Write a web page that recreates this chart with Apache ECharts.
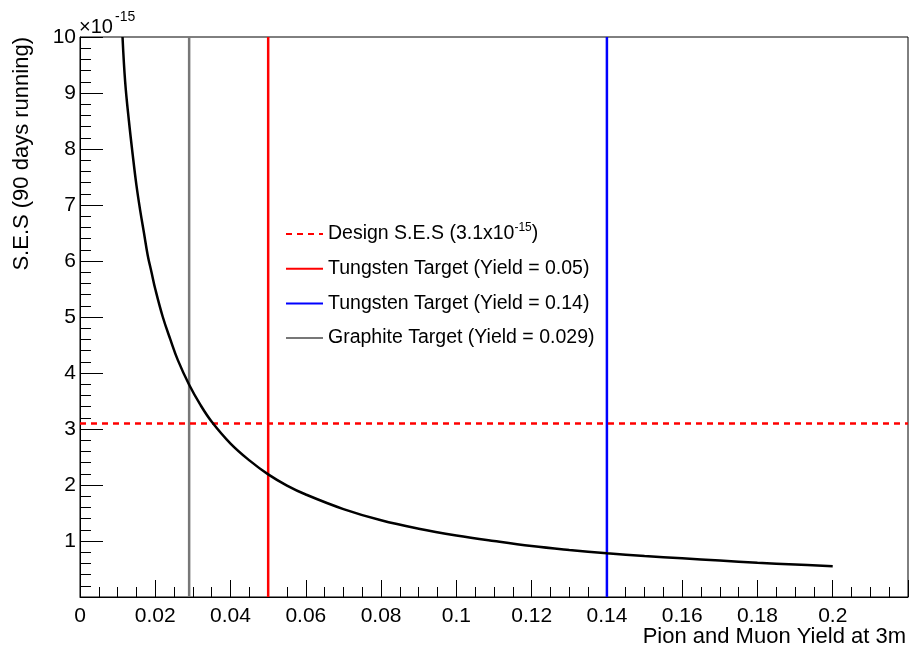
<!DOCTYPE html>
<html>
<head>
<meta charset="utf-8">
<script src="https://cdn.jsdelivr.net/npm/echarts@6/dist/echarts.min.js"></script>
<style>
  html, body { margin: 0; padding: 0; background: #fff; }
  #chart { width: 909px; height: 652px; }
</style>
</head>
<body>
<div id="chart"></div>
<script>
(function() {
  // S.E.S curve (units of 1e-15) vs pion+muon yield at 3m
  var yieldX = [0.0113, 0.012, 0.013, 0.014, 0.015, 0.016, 0.017, 0.018, 0.019, 0.02,
    0.022, 0.024, 0.026, 0.029, 0.032, 0.035, 0.04, 0.045, 0.05, 0.055, 0.06,
    0.07, 0.08, 0.09, 0.1, 0.11, 0.12, 0.13, 0.14, 0.15, 0.16, 0.17, 0.18, 0.19, 0.2];
  var sesY = [10.0, 9.2, 8.5, 7.9, 7.35, 6.9, 6.5, 6.1, 5.8, 5.5,
    5.0, 4.6, 4.23, 3.79, 3.43, 3.13, 2.74, 2.44, 2.19, 1.99, 1.83,
    1.57, 1.37, 1.22, 1.1, 1.0, 0.91, 0.84, 0.78, 0.73, 0.69, 0.65, 0.61, 0.58, 0.55];

  var designSES = 3.1;
  var targetNames = ['Tungsten Target (Yield = 0.05)', 'Tungsten Target (Yield = 0.14)', 'Graphite Target (Yield = 0.029)'];
  var targetYields = [0.05, 0.14, 0.029];
  var targetColors = ['#ff0000', '#0000ff', '#777777'];
  var designName = 'Design S.E.S (3.1x10-15)';

  var xMin = 0, xMax = 0.22, yMin = 0, yMax = 10;
  var font = 'Liberation Sans, Arial, Helvetica, sans-serif';

  var curve = yieldX.map(function(x, i) { return [x, sesY[i]]; });

  var series = [{
    name: 'curve',
    type: 'line',
    data: curve,
    showSymbol: false,
    symbol: 'none',
    smooth: 0.4,
    lineStyle: { color: '#000', width: 2.5 },
    z: 5
  }, {
    name: designName,
    type: 'line',
    data: [[xMin, designSES], [xMax, designSES]],
    symbol: 'none',
    itemStyle: { color: '#ff0000' },
    lineStyle: { color: '#ff0000', width: 2.5, type: [6, 5] },
    z: 4
  }];
  targetNames.forEach(function(n, i) {
    series.push({
      name: n,
      type: 'line',
      data: [[targetYields[i], yMin], [targetYields[i], yMax]],
      symbol: 'none',
      itemStyle: { color: targetColors[i] },
      lineStyle: { color: targetColors[i], width: 2.5 },
      z: 3
    });
  });

  var chart = echarts.init(document.getElementById('chart'), null, { renderer: 'canvas' });
  chart.setOption({
    animation: false,
    backgroundColor: '#fff',
    grid: {
      left: 80, right: 1, top: 37, bottom: 55,
      show: true, borderColor: '#000', borderWidth: 1, backgroundColor: 'transparent'
    },
    legend: {
      data: [designName].concat(targetNames),
      orient: 'vertical',
      left: 285,
      top: 222,
      padding: 0,
      itemWidth: 37,
      itemHeight: 20,
      itemGap: 14.7,
      itemStyle: { opacity: 0 },
      textStyle: {
        fontFamily: font, fontSize: 19.5, color: '#000',
        rich: {
          t: { fontFamily: font, fontSize: 19.5, color: '#000' },
          s: { fontFamily: font, fontSize: 12, color: '#000', padding: [0, 0, 12, 0] }
        }
      },
      formatter: function(name) {
        if (name === designName) return '{t|Design S.E.S (3.1x10}{s|-15}{t|)}';
        return name;
      },
      selectedMode: false
    },
    xAxis: {
      type: 'value',
      min: xMin, max: xMax, interval: 0.02,
      axisLine: { lineStyle: { color: '#000', width: 1 } },
      axisTick: { inside: true, length: 17, lineStyle: { color: '#000', width: 1 } },
      minorTick: { show: true, splitNumber: 4, length: 10, lineStyle: { color: '#000', width: 1 } },
      splitLine: { show: false },
      axisLabel: {
        fontFamily: font, fontSize: 21, color: '#000', margin: 9,
        showMaxLabel: false,
        formatter: function(v) { return v > 0.21 ? '' : String(+v.toFixed(3)); }
      }
    },
    yAxis: {
      type: 'value',
      min: yMin, max: yMax, interval: 1,
      axisLine: { lineStyle: { color: '#000', width: 1 } },
      axisTick: { inside: true, length: 23, lineStyle: { color: '#000', width: 1 } },
      minorTick: { show: true, splitNumber: 5, length: 11, lineStyle: { color: '#000', width: 1 } },
      splitLine: { show: false },
      axisLabel: {
        fontFamily: font, fontSize: 21, color: '#000', margin: 4,
        showMaxLabel: true,
        formatter: function(v) { return v === 0 ? '' : String(v); }
      }
    },
    graphic: [{
      type: 'text',
      x: 22, y: 37,
      rotation: Math.PI / 2,
      style: {
        text: 'S.E.S (90 days running)',
        font: '22px ' + font,
        fill: '#000',
        textAlign: 'right',
        textVerticalAlign: 'middle'
      }
    }, {
      type: 'text',
      x: 906, y: 637,
      style: {
        text: 'Pion and Muon Yield at 3m',
        font: '22px ' + font,
        fill: '#000',
        textAlign: 'right',
        textVerticalAlign: 'middle'
      }
    }, {
      type: 'text',
      x: 79, y: 27,
      style: {
        text: '\u00d710',
        font: '20px ' + font,
        fill: '#000',
        textAlign: 'left',
        textVerticalAlign: 'middle'
      }
    }, {
      type: 'text',
      x: 115, y: 17,
      style: {
        text: '-15',
        font: '14px ' + font,
        fill: '#000',
        textAlign: 'left',
        textVerticalAlign: 'middle'
      }
    }],
    series: series
  });
  window.addEventListener('resize', function() { chart.resize(); });
})();
</script>
</body>
</html>
